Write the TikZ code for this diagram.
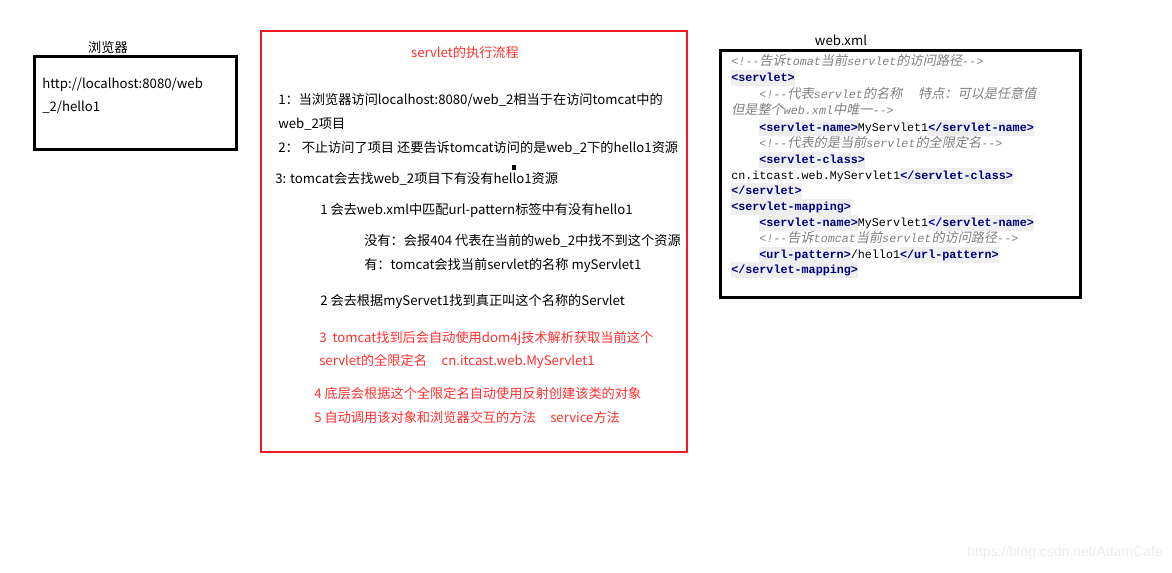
\documentclass[tikz,border=0pt]{standalone}
\usepackage{fontspec}
\usepackage{xcolor}
\usetikzlibrary{positioning}
\setmainfont{Noto Sans CJK SC}
\newfontfamily\codefont{Liberation Mono}
\newfontfamily\cjkslant[FakeSlant=0.2,Scale=1.12]{Noto Sans CJK SC}
\newfontfamily\markfont{Liberation Sans}

\definecolor{boxred}{RGB}{237,28,36}
\definecolor{txtred}{RGB}{255,48,48}
\definecolor{tagblue}{RGB}{0,0,128}
\definecolor{tagbg}{RGB}{239,239,239}
\definecolor{cmtgray}{RGB}{128,128,128}

% code highlighting helpers
\newcommand\tg[1]{{\setlength\fboxsep{0pt}\colorbox{tagbg}{\strut\bfseries\color{tagblue}#1}}}
\newcommand\cm[1]{{\color{cmtgray}\itshape #1}}
\newcommand\cz[1]{{\cjkslant\color{cmtgray}#1}}

\begin{document}
\begin{tikzpicture}[
        x=0.75pt, y=-0.75pt,
        txt/.style={anchor=base west, inner sep=0pt, font=\fontsize{9.9}{12}\selectfont},
        redtxt/.style={txt, text=txtred},
        caption/.style={anchor=base, inner sep=0pt, font=\fontsize{9.9}{12}\selectfont},
        code/.style={anchor=base west, inner sep=0pt, font=\codefont\fontsize{8.8}{12}\selectfont},
        frame/.style={draw, line width=2.25pt}
    ]
        \useasboundingbox (0,0) rectangle (1172,572);

        % Browser
        \node[caption] (browserlbl) at (108,52) {浏览器};
        \draw[frame] (34,56) rectangle (236,149);
        \node[txt] (url1) at (42,88) {http://localhost:8080/web};
        \node[txt] (url2) at (42,111) {\_2/hello1};

        % Execution flow
        \draw[boxred, line width=1.8pt] (261,31) rectangle (687,452);
        \node[caption, text=txtred] (title) at (465,57) {servlet的执行流程};
        \node[txt] (step1) at (278,104) {1：当浏览器访问localhost:8080/web\_2相当于在访问tomcat中的};
        \node[txt] (step1b) at (278,128) {web\_2项目};
        \node[txt] (step2) at (278,152) {2： 不止访问了项目 还要告诉tomcat访问的是web\_2下的hello1资源};
        \node[txt] (step3) at (275,183) {3: tomcat会去找web\_2项目下有没有hello1资源};
        \fill (512,165) rectangle (516,170);
        \node[txt] (sub1) at (320,214) {1 会去web.xml中匹配url-pattern标签中有没有hello1};
        \node[txt] (sub1no) at (364,245) {没有：会报404 代表在当前的web\_2中找不到这个资源};
        \node[txt] (sub1yes) at (364,269) {有：tomcat会找当前servlet的名称 myServlet1};
        \node[txt] (sub2) at (320,305) {2 会去根据myServet1找到真正叫这个名称的Servlet};
        \node[redtxt] (sub3) at (319,342) {3\ \ tomcat找到后会自动使用dom4j技术解析获取当前这个};
        \node[redtxt] (sub3b) at (319,365) {servlet的全限定名\hspace{1.1em}cn.itcast.web.MyServlet1};
        \node[redtxt] (sub4) at (314,398) {4 底层会根据这个全限定名自动使用反射创建该类的对象};
        \node[redtxt] (sub5) at (314,422) {5 自动调用该对象和浏览器交互的方法\hspace{1.1em}service方法};

        % web.xml
        \node[caption] (xmllbl) at (841,45) {web.xml};
        \draw[frame] (720,50) rectangle (1080,297);
        \node[code] (c1) at (731,65) {\cm{<!-{}-}\cz{告诉}\cm{tomat}\cz{当前}\cm{servlet}\cz{的访问路径}\cm{-{}->}};
        \node[code] (c2) at (731,81) {\tg{<servlet>}};
        \node[code] (c3) at (759,98) {\cm{<!-{}-}\cz{代表}\cm{servlet}\cz{的名称\hspace{1.2em}特点：可以是任意值}};
        \node[code] (c4) at (731,114) {\cz{但是整个}\cm{web.xml}\cz{中唯一}\cm{-{}->}};
        \node[code] (c5) at (759,131) {\tg{<servlet-name>}MyServlet1\tg{</servlet-name>}};
        \node[code] (c6) at (759,147) {\cm{<!-{}-}\cz{代表的是当前}\cm{servlet}\cz{的全限定名}\cm{-{}->}};
        \node[code] (c7) at (759,163) {\tg{<servlet-class>}};
        \node[code] (c8) at (731,179) {cn.itcast.web.MyServlet1\tg{</servlet-class>}};
        \node[code] (c9) at (731,194) {\tg{</servlet>}};
        \node[code] (c10) at (731,210) {\tg{<servlet-mapping>}};
        \node[code] (c11) at (759,226) {\tg{<servlet-name>}MyServlet1\tg{</servlet-name>}};
        \node[code] (c12) at (759,242) {\cm{<!-{}-}\cz{告诉}\cm{tomcat}\cz{当前}\cm{servlet}\cz{的访问路径}\cm{-{}->}};
        \node[code] (c13) at (759,258) {\tg{<url-pattern>}/hello1\tg{</url-pattern>}};
        \node[code] (c14) at (731,273) {\tg{</servlet-mapping>}};

        % watermark
        \node[anchor=base east, inner sep=0pt, text=black!7, font=\markfont\fontsize{10.5}{12}\selectfont] (mark) at (1163,556) {https://blog.csdn.net/AdamCafe};
    \end{tikzpicture}
\end{document}
